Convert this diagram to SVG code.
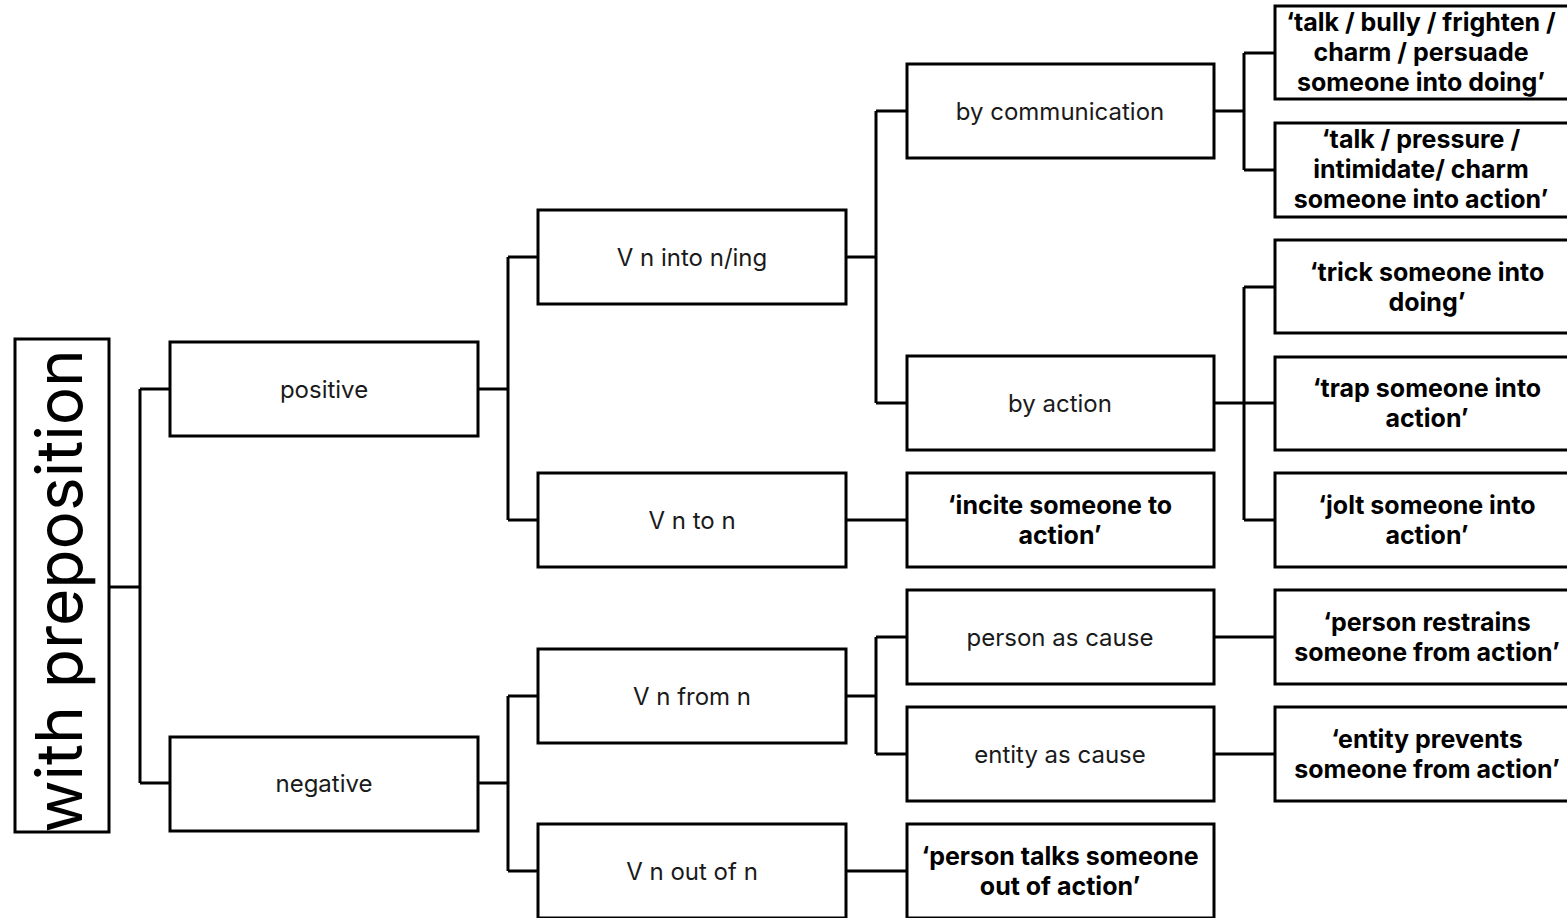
<svg xmlns="http://www.w3.org/2000/svg" width="1567" height="918" viewBox="0 0 1567 918">
  <style>
    .box { fill: #fff; stroke: #000; stroke-width: 3; }
    .link { fill: none; stroke: #000; stroke-width: 3; }
    .lbl { font-family: Inter, "Open Sans", sans-serif; font-size: 24px; fill: #1a1a1a; text-anchor: middle; dominant-baseline: central; }
    .ex { font-family: Inter, "Open Sans", sans-serif; font-size: 25px; font-weight: 700; fill: #000; text-anchor: middle; }
    .root { font-family: Inter, "Open Sans", sans-serif; font-size: 64px; fill: #000; text-anchor: middle; }
  </style>

  <g id="connectors">
    <!-- root to polarity -->
    <path class="link" d="M110 587 H140 M140 389 V783 M140 389 H170 M140 783 H170"/>
    <!-- positive -->
    <path class="link" d="M478 389 H508 M508 257 V520 M508 257 H538 M508 520 H538"/>
    <!-- negative -->
    <path class="link" d="M478 783 H508 M508 696 V871 M508 696 H538 M508 871 H538"/>
    <!-- V n into n/ing -->
    <path class="link" d="M846 257 H876 M876 111 V403 M876 111 H906 M876 403 H906"/>
    <!-- V n to n -->
    <path class="link" d="M846 520 H906"/>
    <!-- V n from n -->
    <path class="link" d="M846 696 H876 M876 637 V754 M876 637 H906 M876 754 H906"/>
    <!-- V n out of n -->
    <path class="link" d="M846 871 H906"/>
    <!-- by communication -->
    <path class="link" d="M1214 111 H1244 M1244 53 V170 M1244 53 H1275 M1244 170 H1275"/>
    <!-- by action -->
    <path class="link" d="M1214 403 H1244 M1244 287 V520 M1244 287 H1275 M1244 403 H1275 M1244 520 H1275"/>
    <!-- causes -->
    <path class="link" d="M1214 637 H1275 M1214 754 H1275"/>
  </g>

  <g id="n-root">
    <rect class="box" x="15" y="339" width="94" height="493"/>
    <text class="root" transform="translate(82 591) rotate(-90)">with preposition</text>
  </g>

  <g id="n-positive">
    <rect class="box" x="170" y="342" width="308" height="94"/>
    <text class="lbl" x="324" y="389">positive</text>
  </g>
  <g id="n-negative">
    <rect class="box" x="170" y="737" width="308" height="94"/>
    <text class="lbl" x="324" y="783">negative</text>
  </g>

  <g id="n-into">
    <rect class="box" x="538" y="210" width="308" height="94"/>
    <text class="lbl" x="692" y="257">V n into n/ing</text>
  </g>
  <g id="n-to">
    <rect class="box" x="538" y="473" width="308" height="94"/>
    <text class="lbl" x="692" y="520">V n to n</text>
  </g>
  <g id="n-from">
    <rect class="box" x="538" y="649" width="308" height="94"/>
    <text class="lbl" x="692" y="696">V n from n</text>
  </g>
  <g id="n-outof">
    <rect class="box" x="538" y="824" width="308" height="94"/>
    <text class="lbl" x="692" y="871">V n out of n</text>
  </g>

  <g id="n-comm">
    <rect class="box" x="907" y="64" width="307" height="94"/>
    <text class="lbl" x="1060" y="111">by communication</text>
  </g>
  <g id="n-action">
    <rect class="box" x="907" y="356" width="307" height="94"/>
    <text class="lbl" x="1060" y="403">by action</text>
  </g>
  <g id="n-incite">
    <rect class="box" x="907" y="473" width="307" height="94"/>
    <text class="ex" x="1060" y="514">‘incite someone to</text>
    <text class="ex" x="1060" y="544">action’</text>
  </g>
  <g id="n-person">
    <rect class="box" x="907" y="590" width="307" height="94"/>
    <text class="lbl" x="1060" y="637">person as cause</text>
  </g>
  <g id="n-entity">
    <rect class="box" x="907" y="707" width="307" height="94"/>
    <text class="lbl" x="1060" y="754">entity as cause</text>
  </g>
  <g id="n-talksout">
    <rect class="box" x="907" y="824" width="307" height="94"/>
    <text class="ex" x="1060" y="865">‘person talks someone</text>
    <text class="ex" x="1060" y="895">out of action’</text>
  </g>

  <g id="n-talk1">
    <rect class="box" x="1275" y="6" width="310" height="93"/>
    <text class="ex" x="1421" y="31">‘talk / bully / frighten /</text>
    <text class="ex" x="1421" y="61">charm / persuade</text>
    <text class="ex" x="1421" y="91">someone into doing’</text>
  </g>
  <g id="n-talk2">
    <rect class="box" x="1275" y="123" width="310" height="94"/>
    <text class="ex" x="1421" y="148">‘talk / pressure /</text>
    <text class="ex" x="1421" y="178">intimidate/ charm</text>
    <text class="ex" x="1421" y="208">someone into action’</text>
  </g>
  <g id="n-trick">
    <rect class="box" x="1275" y="240" width="310" height="93"/>
    <text class="ex" x="1427" y="281">‘trick someone into</text>
    <text class="ex" x="1427" y="311">doing’</text>
  </g>
  <g id="n-trap">
    <rect class="box" x="1275" y="357" width="310" height="93"/>
    <text class="ex" x="1427" y="397">‘trap someone into</text>
    <text class="ex" x="1427" y="427">action’</text>
  </g>
  <g id="n-jolt">
    <rect class="box" x="1275" y="473" width="310" height="94"/>
    <text class="ex" x="1427" y="514">‘jolt someone into</text>
    <text class="ex" x="1427" y="544">action’</text>
  </g>
  <g id="n-restrains">
    <rect class="box" x="1275" y="590" width="310" height="94"/>
    <text class="ex" x="1427" y="631">‘person restrains</text>
    <text class="ex" x="1427" y="661">someone from action’</text>
  </g>
  <g id="n-prevents">
    <rect class="box" x="1275" y="707" width="310" height="94"/>
    <text class="ex" x="1427" y="748">‘entity prevents</text>
    <text class="ex" x="1427" y="778">someone from action’</text>
  </g>
</svg>
